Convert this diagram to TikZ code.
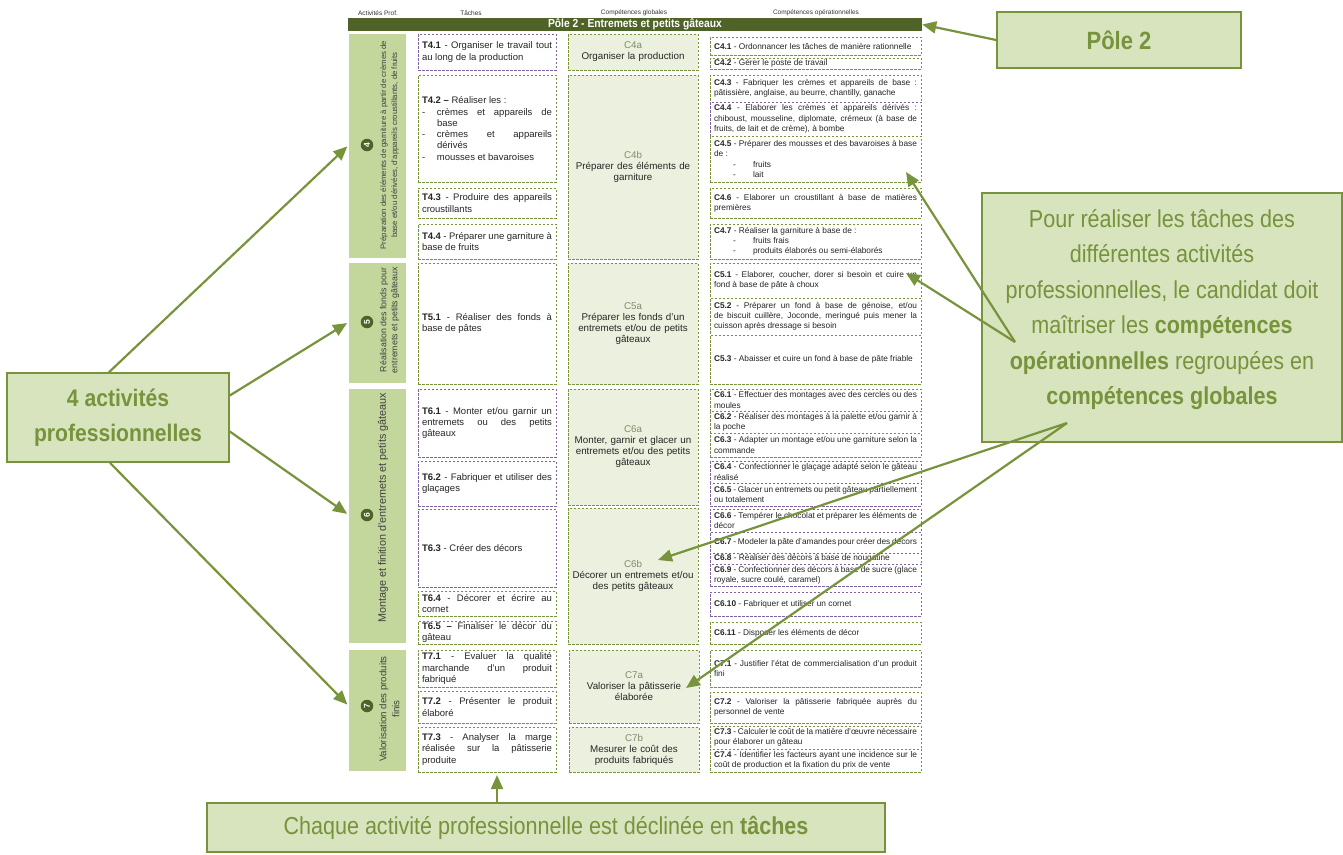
\documentclass[tikz,border=0pt]{standalone}
\usepackage{fontspec}
\setmainfont{Liberation Sans}
\newfontfamily\etroit[FakeStretch=0.88]{Liberation Sans}
\usepackage{xcolor}
\usetikzlibrary{arrows.meta, positioning}
\definecolor{vertfonce}{HTML}{4F6228}
\definecolor{vertclair}{HTML}{C3D69B}
\definecolor{vertpale}{HTML}{EBF1DE}
\definecolor{vertcadre}{HTML}{77933C}
\definecolor{vertfond}{HTML}{D7E4BD}
\definecolor{violetcadre}{HTML}{8064A2}
\definecolor{grisvert}{HTML}{7F8C6A}
\setlength{\parindent}{0pt}
\hyphenpenalty=10000 \exhyphenpenalty=10000
\tolerance=9999 \emergencystretch=2em
% box from its corners: name, style, x1, y1, x2, y2, text
\newcommand{\cadre}[7]{%
  \pgfmathsetmacro{\lcad}{#5-#3}%
  \pgfmathsetmacro{\hcad}{#6-#4}%
  \pgfmathsetmacro{\tcad}{#5-#3-8}%
  \node[#2, minimum width=\lcad pt, minimum height=\hcad pt, text width=\tcad pt] (#1) at ({(#3+#5)/2},{(#4+#6)/2}) {#7};}
\newcommand{\tiret}[1]{\par\noindent\hangindent=15pt\hangafter=1\makebox[15pt][l]{-}#1}
\newcommand{\puce}[1]{\par\noindent\hspace*{19pt}\makebox[20pt][l]{-}#1}
\newcommand{\repere}[1]{{\color{grisvert}#1}}

\begin{document}
\begin{tikzpicture}[x=1pt, y=-1pt,
    tache/.style={draw=vertcadre, dash pattern=on 2.5pt off 1.5pt, line width=0.6pt, fill=white, text=black!85, font=\fontsize{9.5}{11.3}\selectfont, align=justify, inner xsep=4pt, inner ysep=1pt},
    tacheV/.style={tache, draw=violetcadre},
    globale/.style={tache, fill=vertpale, align=center, font=\fontsize{9.8}{11}\selectfont},
    oper/.style={tache, font=\fontsize{8.3}{10.2}\selectfont, inner ysep=0.5pt},
    operV/.style={oper, draw=violetcadre},
    colonne/.style={fill=vertclair, inner sep=0pt},
    numero/.style={circle, fill=vertfonce, text=white, font=\bfseries\fontsize{8.5}{9}\selectfont, inner sep=0pt, minimum size=12.5pt, rotate=90},
    intitule/.style={rotate=90, align=center, text=black!75, inner sep=0pt},
    entete/.style={font=\fontsize{6.5}{7}\selectfont, text=black!80, inner sep=0pt},
    bulle/.style={draw=vertcadre, line width=1.6pt, fill=vertfond, text=vertcadre, align=center, inner sep=0pt},
    fleche/.style={draw=vertcadre, line width=2.2pt, -{Triangle[length=14pt, width=12pt]}}
]
\useasboundingbox (0,0) rectangle (1343,854);

% Column titles and pole banner
\node[entete] (hAct) at (378,13) {Activités Prof.};
\node[entete] (hTac) at (471,13) {Tâches};
\node[entete] (hGlo) at (634,13) {Compétences globales};
\node[entete] (hOpe) at (816,13) {Compétences opérationnelles};
\node[fill=vertfonce, text=white, minimum width=574pt, minimum height=13pt, inner sep=0pt, font=\etroit\bfseries\fontsize{11.7}{12}\selectfont] (bandeau) at (635,24.5) {Pôle 2 - Entremets et petits gâteaux};

% Professional activities
\cadre{act4}{colonne}{349}{34}{406}{258}{}
\cadre{act5}{colonne}{349}{263}{406}{383}{}
\cadre{act6}{colonne}{349}{389}{406}{643}{}
\cadre{act7}{colonne}{349}{650}{406}{771}{}
\node[numero] (num4) at (367,145) {4};
\node[numero] (num5) at (367,322) {5};
\node[numero] (num6) at (367,515) {6};
\node[numero] (num7) at (367,706) {7};
\node[intitule, font=\fontsize{7.8}{11}\selectfont] (lib4) at (389.5,145) {Préparation des éléments de garniture à partir de crèmes de\\base et/ou dérivées, d'appareils croustillants, de fruits};
\node[intitule, font=\fontsize{8.8}{11}\selectfont] (lib5) at (389.5,320) {Réalisation des fonds pour\\entremets et petits gâteaux};
\node[intitule, font=\fontsize{10.8}{11}\selectfont] (lib6) at (383,508) {Montage et finition d'entremets et petits gâteaux};
\node[intitule, font=\fontsize{9.7}{13}\selectfont] (lib7) at (389.5,709) {Valorisation des produits\\finis};

% Tasks
\cadre{T41}{tacheV}{418}{34}{556}{70}{\textbf{T4.1} - Organiser le travail tout\linebreak au long de la production}
\cadre{T42}{tache}{418}{75}{556}{182}{\textbf{T4.2 –} Réaliser les :\tiret{crèmes et appareils de\linebreak base}\tiret{crèmes et appareils\linebreak dérivés}\tiret{mousses et bavaroises}}
\cadre{T43}{tache}{418}{188}{556}{218}{\textbf{T4.3} - Produire des appareils\linebreak croustillants}
\cadre{T44}{tache}{418}{224}{556}{259}{\textbf{T4.4} - Préparer une garniture à\linebreak base de fruits}
\cadre{T51}{tache}{418}{263}{556}{384}{\textbf{T5.1} - Réaliser des fonds à\linebreak base de pâtes}
\cadre{T61}{tacheV}{418}{389}{556}{457}{\textbf{T6.1} - Monter et/ou garnir un\linebreak entremets ou des petits\linebreak gâteaux}
\cadre{T62}{tacheV}{418}{461}{556}{506}{\textbf{T6.2} - Fabriquer et utiliser des\linebreak glaçages}
\cadre{T63}{tacheV}{418}{509}{556}{587}{\textbf{T6.3} - Créer des décors}
\cadre{T64}{tache}{418}{591}{556}{616}{\textbf{T6.4} - Décorer et écrire au\linebreak cornet}
\cadre{T65}{tache}{418}{621}{556}{644}{\textbf{T6.5 –} Finaliser le décor du\linebreak gâteau}
\cadre{T71}{tache}{418}{650}{556}{687}{\textbf{T7.1} - Evaluer la qualité\linebreak marchande d'un produit\linebreak fabriqué}
\cadre{T72}{tache}{418}{691}{556}{723}{\textbf{T7.2} - Présenter le produit\linebreak élaboré}
\cadre{T73}{tache}{418}{727}{556}{772}{\textbf{T7.3} - Analyser la marge\linebreak réalisée sur la pâtisserie\linebreak produite}

% Global competences
\cadre{C4a}{globale}{568}{34}{698}{70}{\repere{C4a}\\Organiser la production}
\cadre{C4b}{globale}{568}{75}{698}{259}{\repere{C4b}\\Préparer des éléments de\\garniture}
\cadre{C5a}{globale}{568}{263}{698}{384}{\repere{C5a}\\Préparer les fonds d'un\\entremets et/ou de petits\\gâteaux}
\cadre{C6a}{globale}{568}{389}{698}{505}{\repere{C6a}\\Monter, garnir et glacer un\\entremets et/ou des petits\\gâteaux}
\cadre{C6b}{globale}{568}{508}{698}{644}{\repere{C6b}\\Décorer un entremets et/ou\\des petits gâteaux}
\cadre{C7a}{globale}{569}{650}{699}{723}{\repere{C7a}\\Valoriser la pâtisserie\\élaborée}
\cadre{C7b}{globale}{569}{727}{699}{772}{\repere{C7b}\\Mesurer le coût des\\produits fabriqués}

% Operational competences
\cadre{C41}{oper}{710}{37}{921}{55}{\textbf{C4.1} - Ordonnancer les tâches de manière rationnelle}
\cadre{C42}{oper}{710}{58}{921}{69}{\textbf{C4.2} - Gérer le poste de travail}
\cadre{C43}{oper}{710}{75}{921}{102}{\textbf{C4.3} - Fabriquer les crèmes et appareils de base :\linebreak pâtissière, anglaise, au beurre, chantilly, ganache}
\cadre{C44}{operV}{710}{102}{921}{136}{\textbf{C4.4} - Elaborer les crèmes et appareils dérivés :\linebreak chiboust, mousseline, diplomate, crémeux (à base de fruits, de lait et de crème), à bombe}
\cadre{C45}{oper}{710}{136}{921}{182}{\textbf{C4.5} - Préparer des mousses et des bavaroises à base de :\puce{fruits}\puce{lait}}
\cadre{C46}{oper}{710}{188}{921}{218}{\textbf{C4.6} - Elaborer un croustillant à base de matières premières}
\cadre{C47}{oper}{710}{224}{921}{259}{\textbf{C4.7} - Réaliser la garniture à base de :\puce{fruits frais}\puce{produits élaborés ou semi-élaborés}}
\cadre{C51}{oper}{710}{263}{921}{298}{\textbf{C5.1} - Elaborer, coucher, dorer si besoin et cuire un\linebreak fond à base de pâte à choux}
\cadre{C52}{oper}{710}{298}{921}{335}{\textbf{C5.2} - Préparer un fond à base de génoise, et/ou de biscuit cuillère, Joconde, meringué puis mener la cuisson après dressage si besoin}
\cadre{C53}{oper}{710}{335}{921}{384}{\textbf{C5.3} - Abaisser et cuire un fond à base de pâte friable}
\cadre{C61}{oper}{710}{389}{921}{411}{\textbf{C6.1} - Effectuer des montages avec des cercles ou des moules}
\cadre{C62}{oper}{710}{411}{921}{433}{\textbf{C6.2} - Réaliser des montages à la palette et/ou garnir à la poche}
\cadre{C63}{oper}{710}{433}{921}{457}{\textbf{C6.3} - Adapter un montage et/ou une garniture selon la commande}
\cadre{C64}{operV}{710}{461}{921}{483}{\textbf{C6.4} - Confectionner le glaçage adapté selon le gâteau réalisé}
\cadre{C65}{operV}{710}{483}{921}{506}{\textbf{C6.5} - Glacer un entremets ou petit gâteau partiellement ou totalement}
\cadre{C66}{operV}{710}{509}{921}{532}{\textbf{C6.6} - Tempérer le chocolat et préparer les éléments de décor}
\cadre{C67}{operV}{710}{532}{921}{553}{\textbf{C6.7} - Modeler la pâte d'amandes pour créer des décors}
\cadre{C68}{operV}{710}{553}{921}{564}{\textbf{C6.8} - Réaliser des décors à base de nougatine}
\cadre{C69}{operV}{710}{564}{921}{586}{\textbf{C6.9} - Confectionner des décors à base de sucre (glace royale, sucre coulé, caramel)}
\cadre{C610}{operV}{710}{592}{921}{616}{\textbf{C6.10} - Fabriquer et utiliser un cornet}
\cadre{C611}{oper}{710}{622}{921}{644}{\textbf{C6.11} - Disposer les éléments de décor}
\cadre{C71}{oper}{710}{650}{921}{687}{\textbf{C7.1} - Justifier l'état de commercialisation d'un produit fini}
\cadre{C72}{oper}{710}{692}{921}{723}{\textbf{C7.2} - Valoriser la pâtisserie fabriquée auprès du personnel de vente}
\cadre{C73}{oper}{710}{726}{921}{749}{\textbf{C7.3} - Calculer le coût de la matière d'œuvre nécessaire pour élaborer un gâteau}
\cadre{C74}{oper}{710}{749}{921}{772}{\textbf{C7.4} - Identifier les facteurs ayant une incidence sur le coût de production et la fixation du prix de vente}

% Callouts
\node[bulle, minimum width=244pt, minimum height=56pt, font=\etroit\bfseries\fontsize{25}{28}\selectfont] (pole) at (1119,40) {Pôle 2};
\node[bulle, minimum width=222pt, minimum height=89pt, font=\etroit\bfseries\fontsize{24}{35}\selectfont] (activites) at (118,417.5) {4 activités\\professionnelles};
\node[bulle, minimum width=360pt, minimum height=249pt] (cadreDroit) at (1162,317.5) {};
\node[text=vertcadre, align=center, inner sep=0pt, font=\etroit\fontsize{24.5}{35.5}\selectfont] (texteDroit) at (1162,309.5) {Pour réaliser les tâches des\\différentes activités\\professionnelles, le candidat doit\\maîtriser les \textbf{compétences}\\\textbf{opérationnelles} regroupées en\\\textbf{compétences globales}};
\node[bulle, minimum width=678pt, minimum height=49pt, font=\etroit\fontsize{24.5}{28}\selectfont] (taches) at (546,827.5) {Chaque activité professionnelle est déclinée en \textbf{tâches}};

% Arrow ends
\coordinate (depA) at (1015,342);
\coordinate (depB) at (1067,423);
\coordinate (ciC45) at (906,172);
\coordinate (ciC51) at (906,273);
\coordinate (ciC6b) at (658,560);
\coordinate (ciC7a) at (686,688);
\coordinate (ciT73) at (497,775);

% Arrows
\draw[fleche] (pole.west) -- (bandeau.east);
\draw[fleche, shorten >=2pt] ([xshift=-9pt]activites.north) -- (act4.west |- num4);
\draw[fleche, shorten >=2pt] ([yshift=22pt]activites.east) -- (act5.west |- num5);
\draw[fleche, shorten >=2pt] ([yshift=-14pt]activites.east) -- (act6.west |- num6);
\draw[fleche, shorten >=2pt] ([xshift=-8pt]activites.south) -- (act7.west |- num7);
\draw[fleche] (depA) -- (ciC45);
\draw[fleche] (depA) -- (ciC51);
\draw[fleche] (depB) -- (ciC6b);
\draw[fleche] (depB) -- (ciC7a);
\draw[fleche] ([xshift=-49pt]taches.north) -- (ciT73);
\end{tikzpicture}
\end{document}
